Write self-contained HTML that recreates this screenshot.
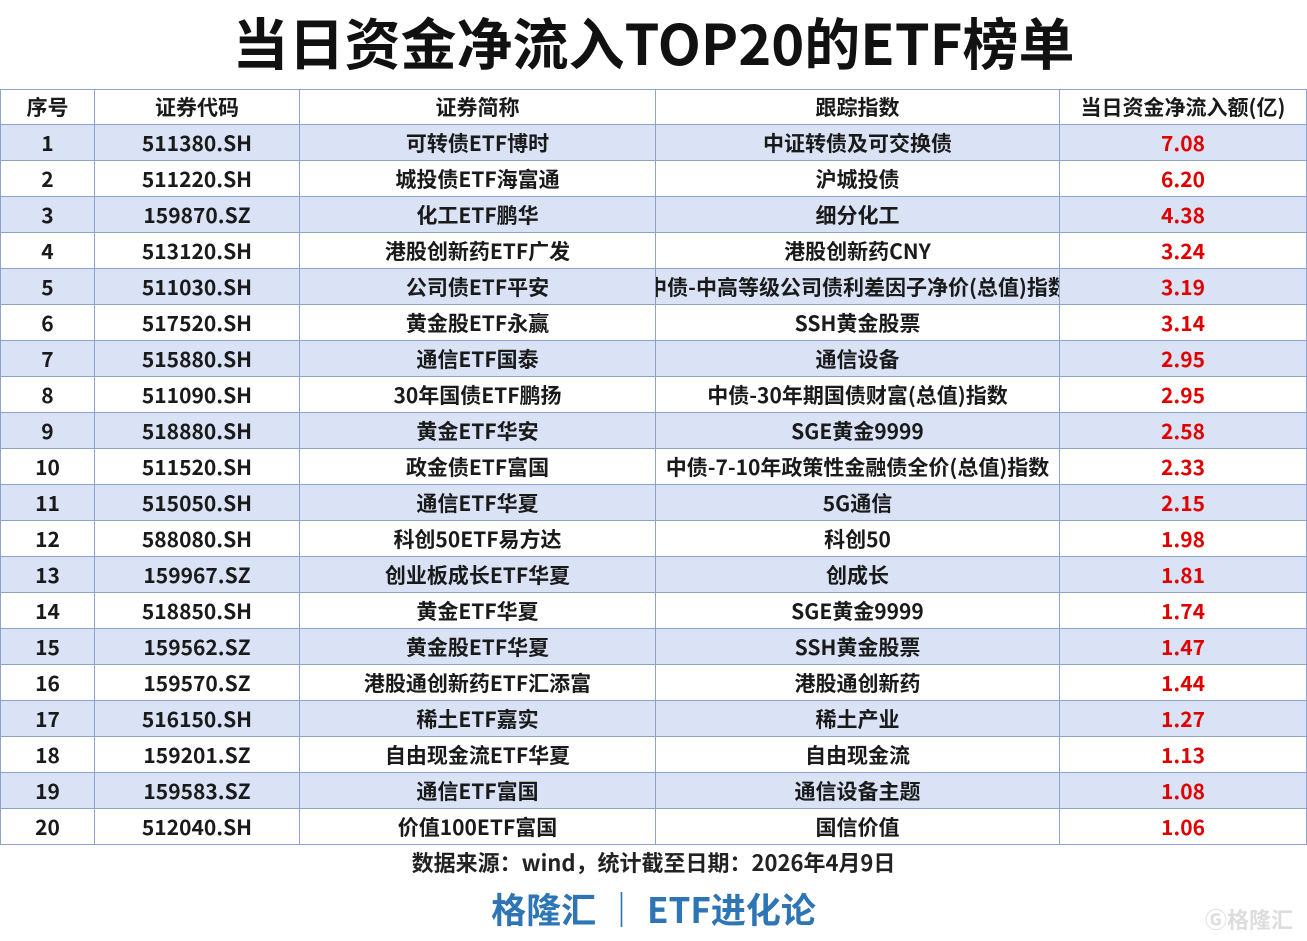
<!DOCTYPE html>
<html><head><meta charset="utf-8"><style>
body{margin:0;width:1307px;height:941px;background:#fff;position:relative;overflow:hidden;font-family:"Noto Sans CJK SC","Liberation Sans",sans-serif;}
.t{position:absolute;left:0;width:1307px;text-align:center;font-weight:bold;}
.r{position:absolute;left:0;width:1307px;height:36px;}
.c{position:absolute;top:0;height:100%;display:flex;align-items:center;justify-content:center;overflow:hidden;white-space:nowrap;font-size:21px;font-weight:bold;color:#1a1a1a;border-right:1px solid #8fa3cf;box-sizing:border-box;}
.red{color:#e00000;}
</style></head><body>
<div class="t" style="top:4px;font-size:56px;line-height:76px;color:#111;">当日资金净流入TOP20的ETF榜单</div>
<div class="t" style="top:846px;font-size:22px;line-height:32px;color:#222;">数据来源：wind，统计截至日期：2026年4月9日</div>
<div class="t" style="top:884px;font-size:35px;line-height:50px;color:#2e75b6;">格隆汇 ｜ ETF进化论</div>
<div style="position:absolute;left:1205px;top:903px;font-size:22px;color:#ddd;font-weight:bold;">Ⓖ格隆汇</div>
<script>
const h=["序号","证券代码","证券简称","跟踪指数","当日资金净流入额(亿)"];
const d=[["511380.SH","可转债ETF博时","中证转债及可交换债","7.08"],["511220.SH","城投债ETF海富通","沪城投债","6.20"],["159870.SZ","化工ETF鹏华","细分化工","4.38"],["513120.SH","港股创新药ETF广发","港股创新药CNY","3.24"],["511030.SH","公司债ETF平安","中债-中高等级公司债利差因子净价(总值)指数","3.19"],["517520.SH","黄金股ETF永赢","SSH黄金股票","3.14"],["515880.SH","通信ETF国泰","通信设备","2.95"],["511090.SH","30年国债ETF鹏扬","中债-30年期国债财富(总值)指数","2.95"],["518880.SH","黄金ETF华安","SGE黄金9999","2.58"],["511520.SH","政金债ETF富国","中债-7-10年政策性金融债全价(总值)指数","2.33"],["515050.SH","通信ETF华夏","5G通信","2.15"],["588080.SH","科创50ETF易方达","科创50","1.98"],["159967.SZ","创业板成长ETF华夏","创成长","1.81"],["518850.SH","黄金ETF华夏","SGE黄金9999","1.74"],["159562.SZ","黄金股ETF华夏","SSH黄金股票","1.47"],["159570.SZ","港股通创新药ETF汇添富","港股通创新药","1.44"],["516150.SH","稀土ETF嘉实","稀土产业","1.27"],["159201.SZ","自由现金流ETF华夏","自由现金流","1.13"],["159583.SZ","通信ETF富国","通信设备主题","1.08"],["512040.SH","价值100ETF富国","国信价值","1.06"]];
const xs=[0,95,300,656,1060,1307];
let html="";
function row(cells,top,bg,hdr){
 html+=`<div class="r" style="top:${top}px;background:${bg};border-bottom:${hdr?2:1}px solid #8fa3cf;box-sizing:border-box;height:${hdr?37:36}px">`;
 cells.forEach((c,i)=>{html+=`<div class="c${(!hdr&&i==4)?' red':''}" style="left:${xs[i]}px;width:${xs[i+1]-xs[i]}px;${i==0?'border-left:1px solid #8fa3cf;':''}">${c}</div>`;});
 html+="</div>";
}
row(h,89,"#fff",true);
d.forEach((r,i)=>row([i+1,...r],125+36*i,i%2==0?"#dae3f5":"#fff",false));
html+='<div style="position:absolute;left:0;top:89px;width:1307px;height:1px;background:#8fa3cf"></div>';
document.body.insertAdjacentHTML("beforeend",html);
</script>
</body></html>
